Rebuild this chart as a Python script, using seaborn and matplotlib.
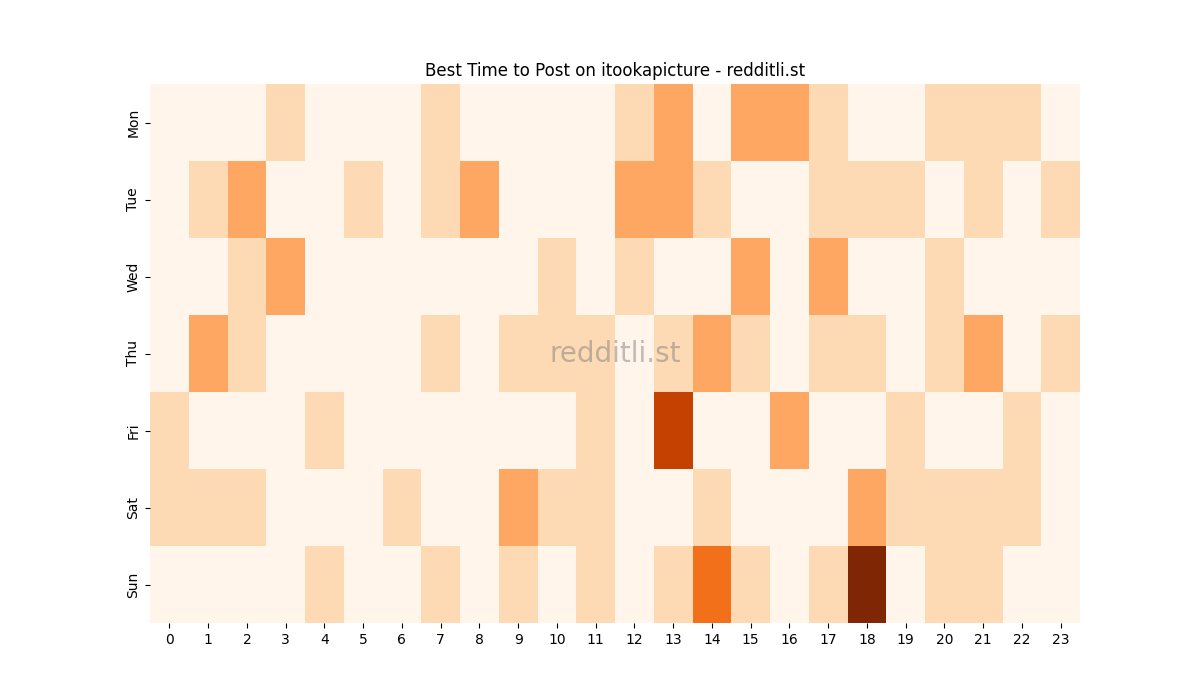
import matplotlib
matplotlib.use("Agg")
import matplotlib.pyplot as plt
import numpy as np
import pandas as pd
import seaborn as sns

days = ['Mon', 'Tue', 'Wed', 'Thu', 'Fri', 'Sat', 'Sun']
hours = list(range(24))

mon = [0, 0, 0, 1, 0, 0, 0, 1, 0, 0, 0, 0, 1, 2, 0, 2, 2, 1, 0, 0, 1, 1, 1, 0]
tue = [0, 1, 2, 0, 0, 1, 0, 1, 2, 0, 0, 0, 2, 2, 1, 0, 0, 1, 1, 1, 0, 1, 0, 1]
wed = [0, 0, 1, 2, 0, 0, 0, 0, 0, 0, 1, 0, 1, 0, 0, 2, 0, 2, 0, 0, 1, 0, 0, 0]
thu = [0, 2, 1, 0, 0, 0, 0, 1, 0, 1, 1, 1, 0, 1, 2, 1, 0, 1, 1, 0, 1, 2, 0, 1]
fri = [1, 0, 0, 0, 1, 0, 0, 0, 0, 0, 0, 1, 0, 4, 0, 0, 2, 0, 0, 1, 0, 0, 1, 0]
sat = [1, 1, 1, 0, 0, 0, 1, 0, 0, 2, 1, 1, 0, 0, 1, 0, 0, 0, 2, 1, 1, 1, 1, 0]
sun = [0, 0, 0, 0, 1, 0, 0, 1, 0, 1, 0, 1, 0, 1, 3, 1, 0, 1, 5, 0, 1, 1, 0, 0]

df = pd.DataFrame([mon, tue, wed, thu, fri, sat, sun], index=days, columns=hours)

fig, ax = plt.subplots(figsize=(12, 7), dpi=100)
sns.heatmap(df, cmap='Oranges', vmin=0, vmax=5, cbar=False, ax=ax)
ax.set_title('Best Time to Post on itookapicture - redditli.st')
ax.text(0.5, 0.5, 'redditli.st', transform=ax.transAxes, fontsize=20,
        color='gray', alpha=0.5, ha='center', va='center')
fig.savefig('out.png')
